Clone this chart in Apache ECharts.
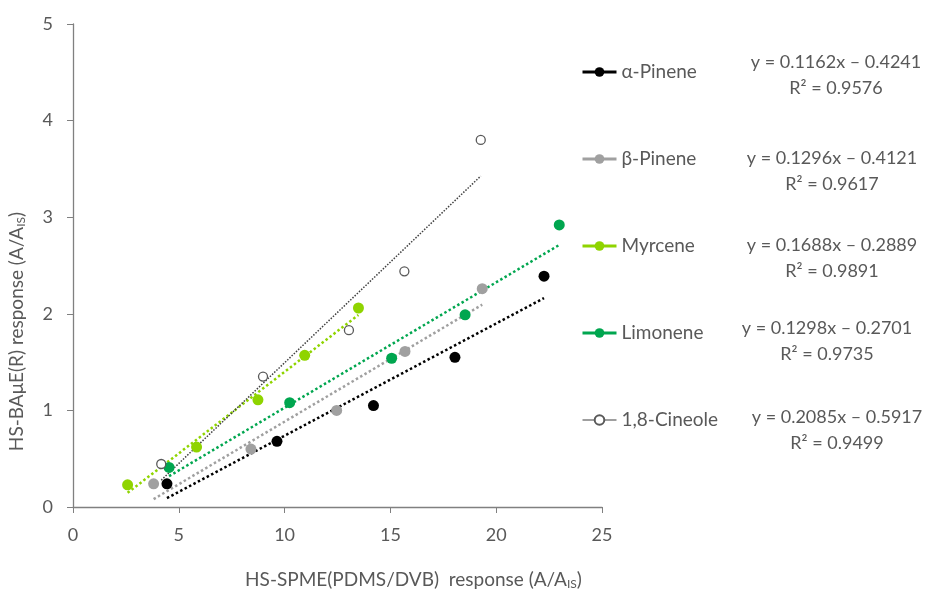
<!DOCTYPE html>
<html><head><meta charset="utf-8">
<script src="https://cdn.jsdelivr.net/npm/echarts@6/dist/echarts.min.js"></script>
<style>html,body{margin:0;padding:0;background:#fff}#c{width:932px;height:590px}</style>
</head><body><div id="c"></div>
<script>
const seriesNames = ['α-Pinene', 'β-Pinene', 'Myrcene', 'Limonene', '1,8-Cineole'];
const alphaPinene = [[4.44,0.24],[9.64,0.68],[14.2,1.05],[18.05,1.55],[22.26,2.39]];
const betaPinene  = [[3.81,0.24],[8.41,0.60],[12.46,1.00],[15.69,1.61],[19.34,2.26]];
const myrcene     = [[2.58,0.23],[5.84,0.62],[8.74,1.11],[10.95,1.57],[13.49,2.06]];
const limonene    = [[4.54,0.41],[10.24,1.08],[15.06,1.54],[18.53,1.99],[22.98,2.92]];
const cineole     = [[4.17,0.445],[8.98,1.35],[13.04,1.83],[15.66,2.44],[19.27,3.80]];
const slopes      = [0.1162, 0.1296, 0.1688, 0.1298, 0.2085];
const intercepts  = [-0.4241, -0.4121, -0.2889, -0.2701, -0.5917];
const rSquared    = ['0.9576', '0.9617', '0.9891', '0.9735', '0.9499'];
const xTicks = [0, 5, 10, 15, 20, 25];
const yTicks = [0, 1, 2, 3, 4, 5];

const allData = [alphaPinene, betaPinene, myrcene, limonene, cineole];
const colors = ['#000000', '#a0a0a0', '#8fd400', '#00a64f', '#7f7f7f'];
const FONT = 'Lato, "Open Sans", sans-serif';
const TXT = '#595959';

const chart = echarts.init(document.getElementById('c'));
const series = [];
allData.forEach((d, i) => {
  const xs = d.map(p => p[0]);
  const x0 = Math.min(...xs), x1 = Math.max(...xs);
  const m = slopes[i], b = intercepts[i];
  series.push({
    name: seriesNames[i] + ' trend', type: 'line', silent: true,
    data: [[x0, m * x0 + b], [x1, m * x1 + b]], showSymbol: false, z: 1,
    lineStyle: { color: i === 4 ? '#404040' : colors[i], width: i === 4 ? 1.5 : 2.5, type: i === 4 ? [1.5, 1.5] : [2.5, 2.5] }
  });
});
allData.forEach((d, i) => {
  const hollow = i === 4;
  series.push({
    name: seriesNames[i], type: 'line', data: d, z: 3,
    symbol: 'circle', symbolSize: hollow ? 9 : 11, showSymbol: true,
    lineStyle: { opacity: 0, width: hollow ? 1.5 : 3, color: colors[i] },
    itemStyle: hollow ? { color: '#ffffff', borderColor: '#595959', borderWidth: 1.3 } : { color: colors[i] }
  });
});

const eqCenters = [836, 832, 832, 827, 837];
const eqTops = [49, 145, 232, 315, 404];
const graphics = [];
seriesNames.forEach((n, i) => {
  const b = intercepts[i];
  graphics.push({ type: 'text', x: eqCenters[i], y: eqTops[i],
    style: { text: 'y = ' + slopes[i].toFixed(4) + 'x ' + (b < 0 ? '– ' : '+ ') + Math.abs(b).toFixed(4) + '\nR² = ' + rSquared[i],
      font: '18px ' + FONT, fill: TXT, align: 'center', lineHeight: 26 } });
});

chart.setOption({
  animation: false,
  backgroundColor: '#ffffff',
  grid: { left: 73, right: 330, top: 24, bottom: 83, containLabel: false, outerBoundsMode: 'none' },
  xAxis: {
    type: 'value', min: xTicks[0], max: xTicks[xTicks.length - 1], interval: 5,
    name: '{n|HS-SPME(PDMS/DVB)  response (A/A}{s|IS}{n|)}', nameLocation: 'middle', nameGap: 63,
    nameTextStyle: { padding: [0, 0, 0, 152], rich: { n: { fontSize: 19, fontFamily: FONT, color: TXT }, s: { fontSize: 12, fontFamily: FONT, color: TXT, verticalAlign: 'bottom', padding: [8, 0, 0, 0] } } },
    axisLine: { lineStyle: { color: '#808080', width: 1.3 } },
    axisTick: { show: true, length: 6, lineStyle: { color: '#808080' } },
    axisLabel: { fontSize: 18, fontFamily: FONT, color: TXT, margin: 19 },
    splitLine: { show: false }
  },
  yAxis: {
    type: 'value', min: yTicks[0], max: yTicks[yTicks.length - 1], interval: 1,
    name: '{n|HS-BAμE(R) response (A/A}{s|IS}{n|)}', nameLocation: 'middle', nameGap: 46,
    nameTextStyle: { padding: [0, 132, 0, 0], rich: { n: { fontSize: 19, fontFamily: FONT, color: TXT }, s: { fontSize: 12, fontFamily: FONT, color: TXT, verticalAlign: 'bottom', padding: [8, 0, 0, 0] } } },
    axisLine: { show: true, lineStyle: { color: '#808080', width: 1.3 } },
    axisTick: { show: true, length: 6, lineStyle: { color: '#808080' } },
    axisLabel: { fontSize: 18, fontFamily: FONT, color: TXT, margin: 20 },
    splitLine: { show: false }
  },
  legend: {
    orient: 'vertical', left: 576, top: 56, itemWidth: 34, itemHeight: 12, itemGap: 65,
    data: seriesNames.map((n, i) => ({ name: n, lineStyle: { width: i === 4 ? 1.5 : 3, opacity: 1 } })),
    textStyle: { fontSize: 19, fontFamily: FONT, color: TXT, lineHeight: 22 },
    lineStyle: { opacity: 1 }
  },
  graphic: graphics,
  series: series
});
</script></body></html>
